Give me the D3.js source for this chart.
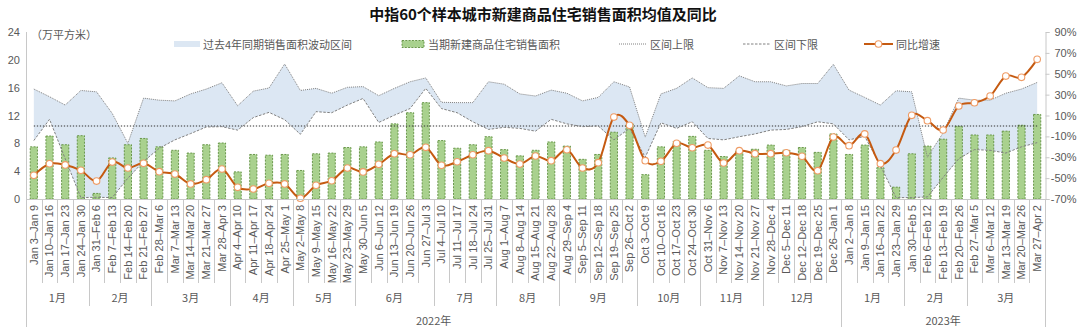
<!DOCTYPE html>
<html>
<head>
<meta charset="utf-8">
<script src="https://cdn.jsdelivr.net/npm/d3@7"></script>
<style>
  html, body { margin: 0; padding: 0; background: #fff; }
  svg { display: block; font-family: "Liberation Sans", Arial, "Noto Sans CJK SC", sans-serif; }
  .cjk { font-family: "Noto Sans CJK SC", "Liberation Sans", sans-serif; }
</style>
</head>
<body>
<svg id="chart" width="1080" height="329"></svg>
<script>
// Weekly periods (2022-01-03 .. 2023-04-02)
const categories = [
  "Jan 3–Jan 9","Jan 10–Jan 16","Jan 17–Jan 23","Jan 24–Jan 30",
  "Jan 31–Feb 6","Feb 7–Feb 13","Feb 14–Feb 20","Feb 21–Feb 27",
  "Feb 28–Mar 6","Mar 7–Mar 13","Mar 14–Mar 20","Mar 21–Mar 27","Mar 28–Apr 3",
  "Apr 4–Apr 10","Apr 11–Apr 17","Apr 18–Apr 24","Apr 25–May 1",
  "May 2–May 8","May 9–May 15","May 16–May 22","May 23–May 29",
  "May 30–Jun 5","Jun 6–Jun 12","Jun 13–Jun 19","Jun 20–Jun 26","Jun 27–Jul 3",
  "Jul 4–Jul 10","Jul 11–Jul 17","Jul 18–Jul 24","Jul 25–Jul 31",
  "Aug 1–Aug 7","Aug 8–Aug 14","Aug 15–Aug 21","Aug 22–Aug 28",
  "Aug 29–Sep 4","Sep 5–Sep 11","Sep 12–Sep 18","Sep 19–Sep 25","Sep 26–Oct 2",
  "Oct 3–Oct 9","Oct 10–Oct 16","Oct 17–Oct 23","Oct 24–Oct 30",
  "Oct 31–Nov 6","Nov 7–Nov 13","Nov 14–Nov 20","Nov 21–Nov 27",
  "Nov 28–Dec 4","Dec 5–Dec 11","Dec 12–Dec 18","Dec 19–Dec 25","Dec 26–Jan 1",
  "Jan 2–Jan 8","Jan 9–Jan 15","Jan 16–Jan 22","Jan 23–Jan 29",
  "Jan 30–Feb 5","Feb 6–Feb 12","Feb 13–Feb 19","Feb 20–Feb 26",
  "Feb 27–Mar 5","Mar 6–Mar 12","Mar 13–Mar 19","Mar 20–Mar 26","Mar 27–Apr 2"
];
const monthLabels = ["1月","2月","3月","4月","5月","6月","7月","8月","9月","10月","11月","12月","1月","2月","3月"];
const monthCounts = [4,4,5,4,4,5,4,4,5,4,4,5,4,4,5];
const yearLabels = ["2022年","2023年"];
const yearCounts = [52,13];

// 当期新建商品住宅销售面积 (万平方米)
const salesArea = [
  7.5,9.05,7.8,9.1, 0.8,5.9,7.8,8.7, 7.5,7.0,6.6,7.8,8.05,
  3.9,6.4,6.3,6.4, 4.1,6.5,6.6,7.4, 7.5,8.2,10.8,12.4,13.85,
  8.4,7.3,7.8,8.95, 7.1,6.2,7.0,8.2, 7.6,5.7,6.4,9.6,10.8,
  3.5,7.5,8.25,9.0, 7.0,6.1,6.9,7.15, 7.75,7.0,7.4,6.7,9.35,
  6.4,7.75,4.5,1.7, 6.5,7.6,8.6,10.45, 9.2,9.2,9.75,10.6,12.15
];
// 区间上限 (万平方米)
const upperBound = [
  15.8,14.7,13.5,15.6, 15.4,12.3,8.0,14.5, 14.2,14.1,15.1,15.8,16.7,
  13.4,15.5,15.95,19.4, 15.6,15.9,15.2,16.05, 16.15,14.85,15.9,16.85,17.4,
  13.9,13.85,13.85,16.85, 16.5,15.1,14.8,15.65, 15.2,14.1,14.6,16.85,16.1,
  8.9,15.1,15.9,17.4, 16.0,15.9,17.7,16.85, 16.85,16.25,16.6,16.6,19.35,
  15.65,14.6,13.5,15.55, 15.4,6.0,9.5,14.5, 14.2,14.2,15.2,15.8,16.75
];
// 区间下限 (万平方米)
const lowerBound = [
  8.4,11.45,5.8,0.2, 0.25,0.2,3.0,5.4, 7.3,8.5,9.4,10.35,10.4,
  9.9,11.7,12.45,11.4, 9.3,12.55,12.4,13.5, 14.45,11.0,12.05,13.0,15.9,
  13.0,12.4,11.1,10.0, 10.3,10.15,9.75,11.45, 10.8,10.4,10.5,8.5,10.15,
  6.0,10.95,10.15,11.1, 8.7,8.5,8.95,9.35, 9.9,10.0,10.4,11.1,10.8,
  8.5,9.0,4.8,0.2, 0.2,0.3,3.1,5.8, 7.1,7.0,6.6,7.5,8.1
];
// 同比增速 (%)
const yoyGrowth = [
  -47.3,-36.2,-37.4,-42.5, -52.8,-34.6,-40.3,-35.8, -43.8,-46.1,-55.6,-51.5,-41.3,
  -58.8,-60.4,-55.0,-55.6, -69.3,-56.9,-52.5,-40.3, -44.1,-36.8,-26.6,-27.6,-20.5,
  -37.7,-34.3,-27.6,-23.7, -30.7,-36.5,-28.8,-33.3, -22.8,-40.3,-35.2,8.5,0.6,
  -33.3,-33.9,-16.6,-20.9, -18.3,-35.5,-23.7,-26.6, -26.6,-25.7,-29.1,-42.9,-10.6,
  -18.9,-7.7,-36.2,-23.1, 10.2,5.0,-3.9,19.1, 22.2,28.7,47.8,46.6,63.8
];
const leftTicks = [0,4,8,12,16,20,24];
const rightTicks = [-70,-50,-30,-10,10,30,50,70,90];

const svg = d3.select("#chart");
const plotLeft = 26, plotRight = 1045, plotTop = 32, plotBottom = 199;

const idx = d3.range(categories.length);
const x = d3.scaleBand().domain(idx).range([plotLeft, plotRight]).paddingInner(0).paddingOuter(0);
const cx = i => x(i) + x.bandwidth() / 2;
const yL = d3.scaleLinear().domain([0, 24]).range([plotBottom, plotTop]);
const yR = d3.scaleLinear().domain([-70, 90]).range([plotBottom, plotTop]);

const GRID = "#c8c8c8";
const TEXT = "#595959";

// Title
svg.append("text").attr("class", "cjk")
  .attr("x", 543).attr("y", 13).attr("text-anchor", "middle").attr("dominant-baseline", "central")
  .attr("font-size", 15).attr("font-weight", "bold").attr("fill", "#111")
  .text("中指60个样本城市新建商品住宅销售面积均值及同比");

// Unit label
svg.append("text").attr("class", "cjk")
  .attr("x", 31).attr("y", 34).attr("dominant-baseline", "central")
  .attr("font-size", 11).attr("fill", TEXT).text("（万平方米）");

// Band between lower and upper bounds
const band = d3.area()
  .x(i => cx(i))
  .y0(i => yL(lowerBound[i]))
  .y1(i => yL(upperBound[i]));
svg.append("path").datum(idx).attr("d", band).attr("fill", "#dce7f3");

// Bars
const barW = x.bandwidth() * 0.46;
svg.append("g").selectAll("rect").data(idx).join("rect")
  .attr("x", i => cx(i) - barW / 2)
  .attr("y", i => yL(salesArea[i]))
  .attr("width", barW)
  .attr("height", i => yL(0) - yL(salesArea[i]))
  .attr("fill", "#a9d18e")
  .attr("stroke", "#5f8f3e").attr("stroke-width", 0.9).attr("stroke-dasharray", "2,1.3");

// 0% reference line (right axis)
svg.append("line")
  .attr("x1", cx(0)).attr("x2", cx(categories.length - 1))
  .attr("y1", yR(0)).attr("y2", yR(0))
  .attr("stroke", "#333").attr("stroke-width", 1.1).attr("stroke-dasharray", "1.3,1.7");

// Upper / lower bound lines
const lineL = arr => d3.line().x(i => cx(i)).y(i => yL(arr[i]));
svg.append("path").datum(idx).attr("d", lineL(upperBound))
  .attr("fill", "none").attr("stroke", "#808080").attr("stroke-width", 1).attr("stroke-dasharray", "1,1");
svg.append("path").datum(idx).attr("d", lineL(lowerBound))
  .attr("fill", "none").attr("stroke", "#808080").attr("stroke-width", 1).attr("stroke-dasharray", "2.5,1.5");

// YoY growth line
const yoyLine = d3.line().x(i => cx(i)).y(i => yR(yoyGrowth[i])).curve(d3.curveCardinal.tension(0));
svg.append("path").datum(idx).attr("d", yoyLine)
  .attr("fill", "none").attr("stroke", "#c55a11").attr("stroke-width", 2);
svg.append("g").selectAll("circle").data(idx).join("circle")
  .attr("cx", i => cx(i)).attr("cy", i => yR(yoyGrowth[i])).attr("r", 3.3)
  .attr("fill", "#fff").attr("stroke", "#ef9c66").attr("stroke-width", 1.1);

// Left axis
const gL = svg.append("g").attr("transform", `translate(${plotLeft},0)`)
  .call(d3.axisLeft(yL).tickValues(leftTicks).tickSize(0).tickPadding(6));
gL.select(".domain").remove();
gL.selectAll("text").attr("font-size", 11).attr("fill", TEXT);

// Right axis
const gR = svg.append("g").attr("transform", `translate(${plotRight + 0.5},0)`)
  .call(d3.axisRight(yR).tickValues(rightTicks).tickSize(4).tickFormat(d => d + "%"));
gR.select(".domain").attr("stroke", GRID);
gR.selectAll(".tick line").attr("stroke", GRID);
gR.selectAll("text").attr("font-size", 11).attr("fill", TEXT)
  .attr("text-anchor", "end").attr("x", 31);

// Category axis
const gB = svg.append("g").attr("transform", `translate(0,${plotBottom})`)
  .call(d3.axisBottom(x).tickSize(0).tickFormat(i => categories[i]));
gB.select(".domain").attr("stroke", GRID);
gB.selectAll("text")
  .attr("font-size", 11).attr("fill", TEXT)
  .attr("text-anchor", "end").attr("transform", "rotate(-90)")
  .attr("x", -6).attr("y", 0).attr("dy", "0.35em");

// Separators: week, month and year boundaries
const monthEdges = new Set([0]);
let acc = 0; monthCounts.forEach(c => { acc += c; monthEdges.add(acc); });
const yearEdges = new Set([0]);
acc = 0; yearCounts.forEach(c => { acc += c; yearEdges.add(acc); });
const edgeX = k => k < categories.length ? x(k) : plotRight;
svg.append("g").selectAll("line").data(d3.range(categories.length + 1)).join("line")
  .attr("x1", k => Math.round(edgeX(k)) + 0.5).attr("x2", k => Math.round(edgeX(k)) + 0.5)
  .attr("y1", plotBottom)
  .attr("y2", k => yearEdges.has(k) ? 327 : monthEdges.has(k) ? 306 : 283)
  .attr("stroke", GRID).attr("stroke-width", 1);
// Left axis line
svg.append("line").attr("x1", plotLeft + 0.5).attr("x2", plotLeft + 0.5)
  .attr("y1", plotTop).attr("y2", plotBottom).attr("stroke", GRID);

// Month labels
let start = 0;
monthLabels.forEach((m, j) => {
  const a = x(start), b = edgeX(start + monthCounts[j]);
  svg.append("text").attr("class", "cjk")
    .attr("x", (a + b) / 2).attr("y", 297).attr("text-anchor", "middle").attr("dominant-baseline", "central")
    .attr("font-size", 11).attr("fill", TEXT).text(m);
  start += monthCounts[j];
});
// Year labels
start = 0;
yearLabels.forEach((yl, j) => {
  const a = x(start), b = edgeX(start + yearCounts[j]);
  svg.append("text").attr("class", "cjk")
    .attr("x", (a + b) / 2).attr("y", 320).attr("text-anchor", "middle").attr("dominant-baseline", "central")
    .attr("font-size", 11).attr("fill", TEXT).text(yl);
  start += yearCounts[j];
});

// Legend
const LY = 44;
const lg = svg.append("g");
lg.append("rect").attr("x", 174).attr("y", LY - 3).attr("width", 26).attr("height", 6).attr("fill", "#dce7f3");
lg.append("text").attr("class", "cjk").attr("x", 203).attr("y", LY).attr("dominant-baseline", "central")
  .attr("font-size", 11).attr("fill", TEXT).text("过去4年同期销售面积波动区间");
lg.append("rect").attr("x", 402).attr("y", LY - 3.5).attr("width", 22).attr("height", 7)
  .attr("fill", "#a9d18e").attr("stroke", "#5f8f3e").attr("stroke-width", 0.9).attr("stroke-dasharray", "2,1.3");
lg.append("text").attr("class", "cjk").attr("x", 428).attr("y", LY).attr("dominant-baseline", "central")
  .attr("font-size", 11).attr("fill", TEXT).text("当期新建商品住宅销售面积");
lg.append("line").attr("x1", 619).attr("x2", 646).attr("y1", LY).attr("y2", LY)
  .attr("stroke", "#808080").attr("stroke-dasharray", "1,1");
lg.append("text").attr("class", "cjk").attr("x", 650).attr("y", LY).attr("dominant-baseline", "central")
  .attr("font-size", 11).attr("fill", TEXT).text("区间上限");
lg.append("line").attr("x1", 743).attr("x2", 771).attr("y1", LY).attr("y2", LY)
  .attr("stroke", "#808080").attr("stroke-dasharray", "2.5,1.5");
lg.append("text").attr("class", "cjk").attr("x", 774).attr("y", LY).attr("dominant-baseline", "central")
  .attr("font-size", 11).attr("fill", TEXT).text("区间下限");
lg.append("line").attr("x1", 864).attr("x2", 893).attr("y1", LY).attr("y2", LY)
  .attr("stroke", "#c55a11").attr("stroke-width", 2);
lg.append("circle").attr("cx", 878.5).attr("cy", LY).attr("r", 3.3)
  .attr("fill", "#fff").attr("stroke", "#ef9c66").attr("stroke-width", 1.1);
lg.append("text").attr("class", "cjk").attr("x", 896).attr("y", LY).attr("dominant-baseline", "central")
  .attr("font-size", 11).attr("fill", TEXT).text("同比增速");
</script>
</body>
</html>
